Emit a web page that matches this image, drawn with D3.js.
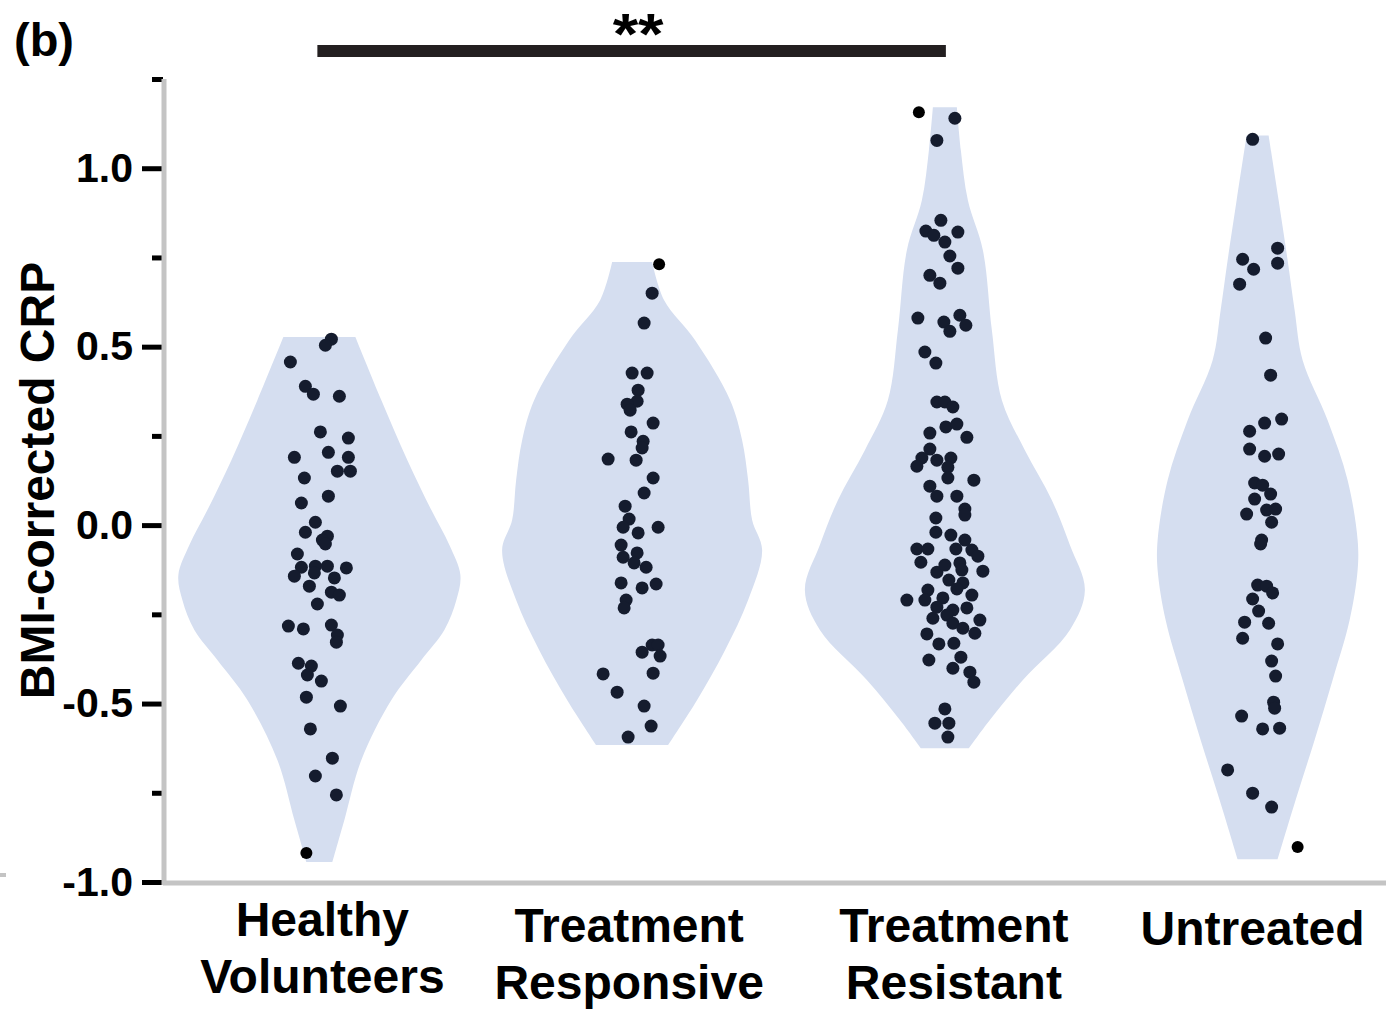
<!DOCTYPE html>
<html>
<head>
<meta charset="utf-8">
<script src="https://cdn.jsdelivr.net/npm/d3@7"></script>
<style>
  html, body { margin: 0; padding: 0; background: #ffffff; }
  svg { display: block; }
  text { font-family: "Liberation Sans", Arial, sans-serif; font-weight: bold; fill: #000; }
</style>
</head>
<body>
<svg id="chart" width="1386" height="1009"></svg>
<script>
// ---------------- DATA ----------------
const groups = ["Healthy Volunteers", "Treatment Responsive", "Treatment Resistant", "Untreated"];
const groupLabels = [["Healthy", "Volunteers"], ["Treatment", "Responsive"], ["Treatment", "Resistant"], ["Untreated"]];

const yMajorTicks = [-1.0, -0.5, 0.0, 0.5, 1.0];
const yMinorTicks = [-0.75, -0.25, 0.25, 0.75, 1.25];
const yTickLabels = ["-1.0", "-0.5", "0.0", "0.5", "1.0"];
const yTitle = "BMI-corrected CRP";
const panelLabel = "(b)";
const significance = { from: "Healthy Volunteers", to: "Treatment Resistant", label: "**" };

// violin outlines: [value, relative density]
const violinHV = [[0.527,0.36],[0.350,0.62],[0.182,0.88],[0.042,1.12],[-0.056,1.30],[-0.140,1.41],[-0.210,1.37],[-0.294,1.25],[-0.378,1.02],[-0.490,0.72],[-0.658,0.42],[-0.826,0.25],[-0.944,0.13]];
const violinTR = [[0.737,0.20],[0.630,0.32],[0.518,0.63],[0.350,0.98],[0.238,1.10],[0.126,1.16],[0.014,1.20],[-0.070,1.30],[-0.210,1.16],[-0.350,0.93],[-0.490,0.65],[-0.616,0.36]];
const violinTRes = [[1.171,0.12],[1.050,0.16],[0.910,0.23],[0.770,0.38],[0.546,0.47],[0.350,0.57],[0.210,0.80],[0.070,1.07],[-0.056,1.25],[-0.182,1.40],[-0.294,1.25],[-0.434,0.78],[-0.546,0.45],[-0.625,0.24]];
const violinUnt = [[1.092,0.11],[0.910,0.21],[0.742,0.30],[0.602,0.37],[0.462,0.45],[0.294,0.70],[0.126,0.90],[-0.042,1.00],[-0.126,1.00],[-0.266,0.92],[-0.434,0.75],[-0.602,0.57],[-0.770,0.38],[-0.936,0.20]];

// points: [value, jitter, outlier flag]
const pointsHV = [[0.521,12],[0.504,6],[0.457,-29],[0.389,-14],[0.367,-6],[0.361,20],[0.261,1],[0.244,29],[0.204,9],[0.190,-25],[0.190,29],[0.151,18],[0.151,31],[0.132,-15],[0.081,9],[0.062,-18],[0.008,-4],[-0.020,-14],[-0.031,8],[-0.042,3],[-0.053,6],[-0.081,-22],[-0.118,-18],[-0.115,-4],[-0.115,8],[-0.120,27],[-0.143,-25],[-0.134,-5],[-0.148,15],[-0.171,-10],[-0.188,12],[-0.196,20],[-0.221,-2],[-0.283,-31],[-0.291,-16],[-0.280,12],[-0.308,18],[-0.328,17],[-0.387,-21],[-0.395,-8],[-0.420,-12],[-0.437,2],[-0.482,-13],[-0.507,21],[-0.571,-9],[-0.653,13],[-0.703,-4],[-0.756,17],[-0.919,-13,1]];
const pointsTR = [[0.731,27,1],[0.650,20],[0.566,12],[0.426,0],[0.426,15],[0.378,6],[0.347,5],[0.339,-5],[0.322,-2],[0.286,21],[0.261,-1],[0.235,11],[0.216,10],[0.185,-24],[0.182,4],[0.132,21],[0.090,12],[0.053,-7],[0.017,-3],[-0.006,-9],[-0.022,6],[-0.006,26],[-0.056,-11],[-0.078,5],[-0.090,-9],[-0.106,2],[-0.118,14],[-0.162,-11],[-0.176,10],[-0.165,24],[-0.210,-6],[-0.232,-8],[-0.336,20],[-0.336,26],[-0.356,10],[-0.367,28],[-0.417,-29],[-0.415,21],[-0.468,-15],[-0.507,12],[-0.563,19],[-0.594,-4]];
const pointsTRes = [[1.157,-26,1],[1.140,10],[1.078,-8],[0.854,-4],[0.824,-19],[0.812,-11],[0.821,13],[0.793,0],[0.754,5],[0.720,13],[0.700,-15],[0.678,-5],[0.580,-27],[0.569,-1],[0.588,15],[0.560,21],[0.543,5],[0.485,-20],[0.454,-9],[0.345,-8],[0.345,0],[0.331,8],[0.275,1],[0.283,12],[0.258,-15],[0.246,22],[0.213,-15],[0.188,-23],[0.182,-8],[0.188,6],[0.165,-28],[0.162,3],[0.132,3],[0.126,29],[0.109,-15],[0.081,-8],[0.081,12],[0.045,20],[0.028,20],[0.020,-9],[-0.020,-9],[-0.028,6],[-0.042,20],[-0.067,-28],[-0.067,-17],[-0.067,11],[-0.070,27],[-0.104,-24],[-0.087,33],[-0.132,-8],[-0.112,0],[-0.106,15],[-0.126,17],[-0.129,38],[-0.154,4],[-0.162,18],[-0.179,12],[-0.182,-17],[-0.210,-38],[-0.210,-20],[-0.204,-2],[-0.196,27],[-0.230,-8],[-0.238,8],[-0.232,22],[-0.261,-12],[-0.252,2],[-0.266,35],[-0.275,8],[-0.289,18],[-0.303,30],[-0.305,-18],[-0.333,-6],[-0.331,9],[-0.378,-16],[-0.370,16],[-0.401,8],[-0.412,25],[-0.440,29],[-0.515,0],[-0.555,-10],[-0.555,4],[-0.594,3]];
const pointsUnt = [[1.081,-5],[0.776,20],[0.745,-15],[0.734,20],[0.717,-4],[0.675,-18],[0.524,8],[0.420,13],[0.297,24],[0.286,7],[0.263,-8],[0.213,-8],[0.193,7],[0.199,21],[0.118,-3],[0.112,5],[0.087,13],[0.073,-3],[0.042,9],[0.045,18],[0.031,-11],[0.008,14],[-0.042,4],[-0.053,3],[-0.168,0],[-0.171,9],[-0.190,15],[-0.207,-5],[-0.241,1],[-0.272,-13],[-0.275,11],[-0.317,-15],[-0.333,20],[-0.381,14],[-0.423,18],[-0.496,16],[-0.513,17],[-0.535,-16],[-0.571,5],[-0.569,22],[-0.686,-30],[-0.751,-5],[-0.790,14],[-0.902,40,1]];

const violins = [violinHV, violinTR, violinTRes, violinUnt];
const points = [pointsHV, pointsTR, pointsTRes, pointsUnt];

// ---------------- DRAW ----------------
const svg = d3.select("#chart");
const W = 1386, H = 1009;
const plotLeft = 163, plotBottom = 882, plotTop = 79;

const y = d3.scaleLinear().domain([-1.0, 1.25]).range([plotBottom, plotTop]);
const x = d3.scalePoint().domain(groups).range([plotLeft, 1414]).padding(0.5);
const w = d3.scaleLinear().domain([0, 1]).range([0, 100]);
const jit = d3.scaleLinear().domain([-100, 100]).range([-100 * x.step() / 312.75, 100 * x.step() / 312.75]);

const violinFill = "#d5def0";
const dotFill = "#151c2e";

// violins
groups.forEach((g, i) => {
  const cx = x(g);
  const area = d3.area()
    .y(d => y(d[0]))
    .x0(d => cx - w(d[1]))
    .x1(d => cx + w(d[1]))
    .curve(d3.curveCatmullRom.alpha(0.5));
  svg.append("path")
    .datum(violins[i])
    .attr("d", area)
    .attr("fill", violinFill);
});

// points
groups.forEach((g, i) => {
  const cx = x(g);
  svg.append("g").selectAll("circle")
    .data(points[i])
    .join("circle")
    .attr("cx", d => cx + jit(d[1]))
    .attr("cy", d => y(d[0]))
    .attr("r", d => d[2] ? 6 : 6.5)
    .attr("fill", d => d[2] ? "#000000" : dotFill);
});

// x axis line (gray)
svg.append("line")
  .attr("x1", plotLeft).attr("x2", W)
  .attr("y1", y(-1.0) + 1).attr("y2", y(-1.0) + 1)
  .attr("stroke", "#c4c4c4").attr("stroke-width", 5);

// y axis - minor ticks
const yMinor = svg.append("g")
  .attr("transform", `translate(${plotLeft},0)`)
  .call(d3.axisLeft(y).tickValues(yMinorTicks).tickSize(11).tickSizeOuter(0).tickFormat(""));
yMinor.select(".domain").remove();
yMinor.selectAll(".tick line").attr("stroke", "#000").attr("stroke-width", 5);

// y axis - major ticks with labels
const yMajor = svg.append("g")
  .attr("transform", `translate(${plotLeft},0)`)
  .call(d3.axisLeft(y).tickValues(yMajorTicks).tickSize(21).tickSizeOuter(0).tickPadding(9)
    .tickFormat((d, i) => yTickLabels[i]));
yMajor.select(".domain").remove();
yMajor.selectAll(".tick line").attr("stroke", "#000").attr("stroke-width", 5);
yMajor.selectAll(".tick text")
  .attr("font-family", "Liberation Sans, Arial, sans-serif")
  .attr("font-weight", "bold")
  .attr("font-size", 41)
  .attr("fill", "#000");

// y axis line (gray)
svg.append("line")
  .attr("x1", plotLeft + 1).attr("x2", plotLeft + 1)
  .attr("y1", y(1.25)).attr("y2", y(-1.0) + 3)
  .attr("stroke", "#c4c4c4").attr("stroke-width", 5);

// small gray mark at left edge
svg.append("line")
  .attr("x1", 0).attr("x2", 6)
  .attr("y1", y(-1.0) - 7).attr("y2", y(-1.0) - 7)
  .attr("stroke", "#c4c4c4").attr("stroke-width", 4);

// y title
svg.append("text")
  .attr("transform", `translate(54, ${(y(-1.0) + y(1.25)) / 2}) rotate(-90)`)
  .attr("text-anchor", "middle")
  .attr("font-size", 48)
  .text(yTitle);

// x labels
const labelDx = [3, -3, 9, -5];
const labelDy = [-6, 0, 0, 0];
groups.forEach((g, i) => {
  const lines = groupLabels[i];
  const t = svg.append("text")
    .attr("text-anchor", "middle")
    .attr("font-size", 48);
  const base = (lines.length === 1 ? 945 : 942) + labelDy[i];
  lines.forEach((ln, j) => {
    t.append("tspan")
      .attr("x", x(g) + labelDx[i])
      .attr("y", base + j * 57)
      .text(ln);
  });
});

// significance bar
svg.append("rect")
  .attr("x", x(significance.from) - 2)
  .attr("width", x(significance.to) - x(significance.from) + 3)
  .attr("y", 45).attr("height", 12)
  .attr("fill", "#231f20");
svg.append("text")
  .attr("x", (x(significance.from) + x(significance.to)) / 2 + 6)
  .attr("y", 54)
  .attr("text-anchor", "middle")
  .attr("font-size", 58)
  .attr("textLength", 51)
  .attr("lengthAdjust", "spacingAndGlyphs")
  .text(significance.label);

// panel label
svg.append("text")
  .attr("x", 14).attr("y", 56)
  .attr("font-size", 47)
  .text(panelLabel);
</script>
</body>
</html>
